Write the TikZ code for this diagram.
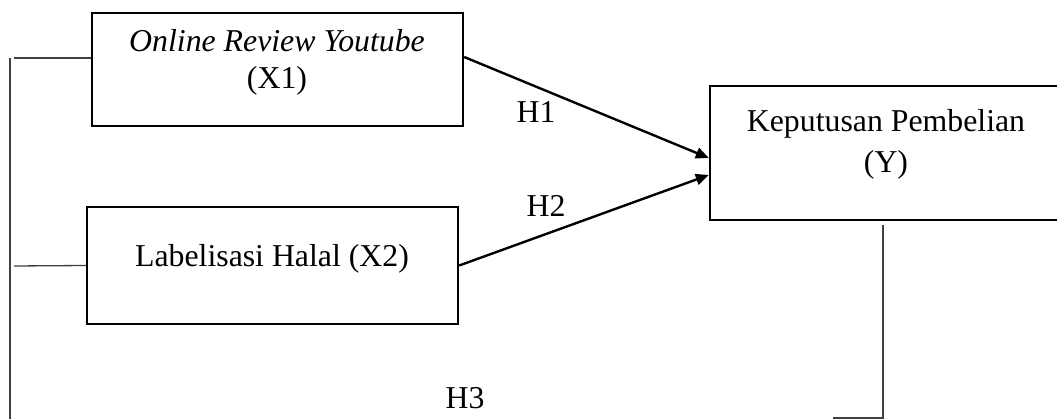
\documentclass[tikz,border=0pt]{standalone}
\usepackage{fontspec}
\setmainfont{Liberation Serif}
\usetikzlibrary{arrows.meta}
\begin{document}
\begin{tikzpicture}[x=1pt,y=-1pt,
  box/.style={draw=black,line width=2.4pt,minimum width=#1,inner sep=0pt},
  txt/.style={anchor=base,inner sep=0pt,font=\fontsize{31.8}{37}\selectfont},
  arr/.style={line width=2.4pt,-{Triangle[length=13pt,width=11pt]}},
  conn/.style={draw=black!75,line width=1.3pt}]
\useasboundingbox (0,0) rectangle (1057,419);
% boxes
\node[box=371pt,minimum height=113pt] (X1) at (277.5,69.5) {};
\node[box=371pt,minimum height=117pt] (X2) at (272.5,265.5) {};
\node[box=352pt,minimum height=134pt] (Y) at (886,153) {};
% texts
\node[txt] (x1a) at (277,52) {\itshape Online Review Youtube};
\node[txt] (x1b) at (277,89) {(X1)};
\node[txt] (x2a) at (272,267) {Labelisasi Halal (X2)};
\node[txt] (ya) at (886,132) {Keputusan Pembelian};
\node[txt] (yb) at (886,173) {(Y)};
\node[txt] (h1) at (536,123) {H1};
\node[txt] (h2) at (546,217) {H2};
\node[txt] (h3) at (465,408) {H3};
% arrows
\draw[arr] ([yshift=12.5pt]X1.east) -- ([yshift=-5pt]Y.west);
\draw[arr] (X2.east) -- ([yshift=-22pt]Y.west);
% left bracket lines
\coordinate (L1) at (14,58);
\coordinate (L2) at (14,266);
\coordinate (Vt) at (10,58);
\coordinate (Vb) at (10,421);
\draw[conn] ([yshift=11.5pt]X1.west) -- (L1);
\draw[conn] (X2.west) -- (L2);
\draw[conn] (Vt) -- (Vb);
% right line from Y
\coordinate (R1) at (883,225);
\coordinate (R2) at (883,418);
\coordinate (R3) at (833,418);
\draw[conn] (R1) -- (R2) -- (R3);
\end{tikzpicture}
\end{document}
